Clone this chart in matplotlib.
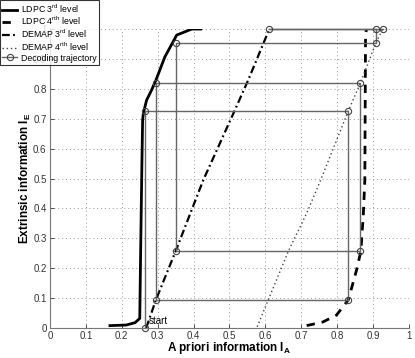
import matplotlib
matplotlib.use("Agg")
import matplotlib.pyplot as plt

# LDPC 3rd level
ldpc3_x = [0.167, 0.213, 0.237, 0.250, 0.253, 0.256, 0.258, 0.260, 0.269, 0.283, 0.295, 0.320, 0.353, 0.395, 0.420]
ldpc3_y = [0.008, 0.010, 0.018, 0.032, 0.30, 0.55, 0.696, 0.718, 0.762, 0.796, 0.829, 0.907, 0.980, 1.000, 1.000]
# LDPC 4th level
ldpc4_x = [0.715, 0.760, 0.798, 0.831, 0.854, 0.866, 0.873, 0.877, 0.879, 0.882]
ldpc4_y = [0.008, 0.020, 0.043, 0.094, 0.194, 0.257, 0.384, 0.495, 0.985, 1.000]
# DEMAP 3rd level
demap3_x = [0.268, 0.295, 0.350, 0.427, 0.515, 0.552, 0.611]
demap3_y = [0.000, 0.094, 0.257, 0.495, 0.729, 0.829, 1.000]
# DEMAP 4th level
demap4_x = [0.577, 0.608, 0.664, 0.715, 0.754, 0.831, 0.864, 0.908, 0.927]
demap4_y = [0.004, 0.094, 0.257, 0.384, 0.495, 0.726, 0.818, 0.954, 1.000]
# Decoding trajectory
traj_x = [0.266, 0.266, 0.831, 0.831, 0.295, 0.295, 0.864, 0.864, 0.350, 0.350, 0.908, 0.908, 0.611, 0.927]
traj_y = [0.000, 0.726, 0.726, 0.094, 0.094, 0.818, 0.818, 0.257, 0.257, 0.955, 0.955, 1.000, 1.000, 1.000]

xticks = [0, 0.1, 0.2, 0.3, 0.4, 0.5, 0.6, 0.7, 0.8, 0.9, 1]
yticks = [0, 0.1, 0.2, 0.3, 0.4, 0.5, 0.6, 0.7, 0.8, 0.9, 1]

plt.rcParams['font.family'] = ['Liberation Sans', 'DejaVu Sans']
plt.rcParams['mathtext.fontset'] = 'custom'
plt.rcParams['mathtext.rm'] = 'Liberation Sans'
plt.rcParams['mathtext.bf'] = 'Liberation Sans:bold'
plt.rcParams['mathtext.it'] = 'Liberation Sans'

fig = plt.figure(figsize=(4.15, 3.58), dpi=100)
ax = fig.add_axes([0.1205, 0.0838, 0.865, 0.835])

l1, = ax.plot(ldpc3_x, ldpc3_y, color='black', lw=2.0, label='LDPC 3$^{\\mathrm{rd}}$ level')
l2, = ax.plot(ldpc4_x, ldpc4_y, color='black', lw=2.0, ls=(0, (3, 2.5)), label='LDPC 4$^{\\mathrm{rth}}$ level')
l3, = ax.plot(demap3_x, demap3_y, color='black', lw=1.6, ls=(0, (3.5, 1.5, 0.8, 1.5)), label='DEMAP 3$^{\\mathrm{rd}}$ level')
l4, = ax.plot(demap4_x, demap4_y, color='#444444', lw=1.0, ls=(0, (1, 2)), label='DEMAP 4$^{\\mathrm{rth}}$ level')
l5, = ax.plot(traj_x, traj_y, color='#666666', lw=1.0, marker='o', ms=4.5, mfc='none',
              mec='#444444', mew=0.8, label='Decoding trajectory', clip_on=False)

ax.text(0.274, 0.008, 'start', fontsize=7, color='black', va='bottom', ha='left')

ax.set_xlim(0, 1)
ax.set_ylim(0, 1)
ax.set_xticks(xticks)
ax.set_yticks(yticks)
ax.set_xticklabels([f'{t:g}' for t in xticks])
ax.set_yticklabels([f'{t:g}' for t in yticks])
ax.tick_params(labelsize=7, colors='#333333', length=3, direction='in', width=0.6, pad=2.5)
ax.grid(True, ls=(0, (1, 3)), color='#999999', lw=0.7)
for s in ['top', 'right']:
    ax.spines[s].set_visible(False)
for s in ['left', 'bottom']:
    ax.spines[s].set_color('#777777')
    ax.spines[s].set_linewidth(0.8)

ax.set_xlabel('A priori information I$_\\mathbf{A}$', fontsize=8.5, fontweight='bold')
ax.set_ylabel('Extrinsic information I$_\\mathbf{E}$', fontsize=8.5, fontweight='bold')
ax.xaxis.set_label_coords(0.5, -0.040)
ax.yaxis.set_label_coords(-0.048, 0.5)

leg = fig.legend(handles=[l1, l2, l3, l4, l5], loc='upper left', bbox_to_anchor=(0.0, 1.0),
                 fontsize=6.3, frameon=True, fancybox=False, edgecolor='black',
                 handlelength=1.7, handletextpad=0.5, borderpad=0.25, labelspacing=0.05,
                 borderaxespad=0.0)
leg.get_frame().set_linewidth(0.8)

fig.savefig('out.png', dpi=100)
